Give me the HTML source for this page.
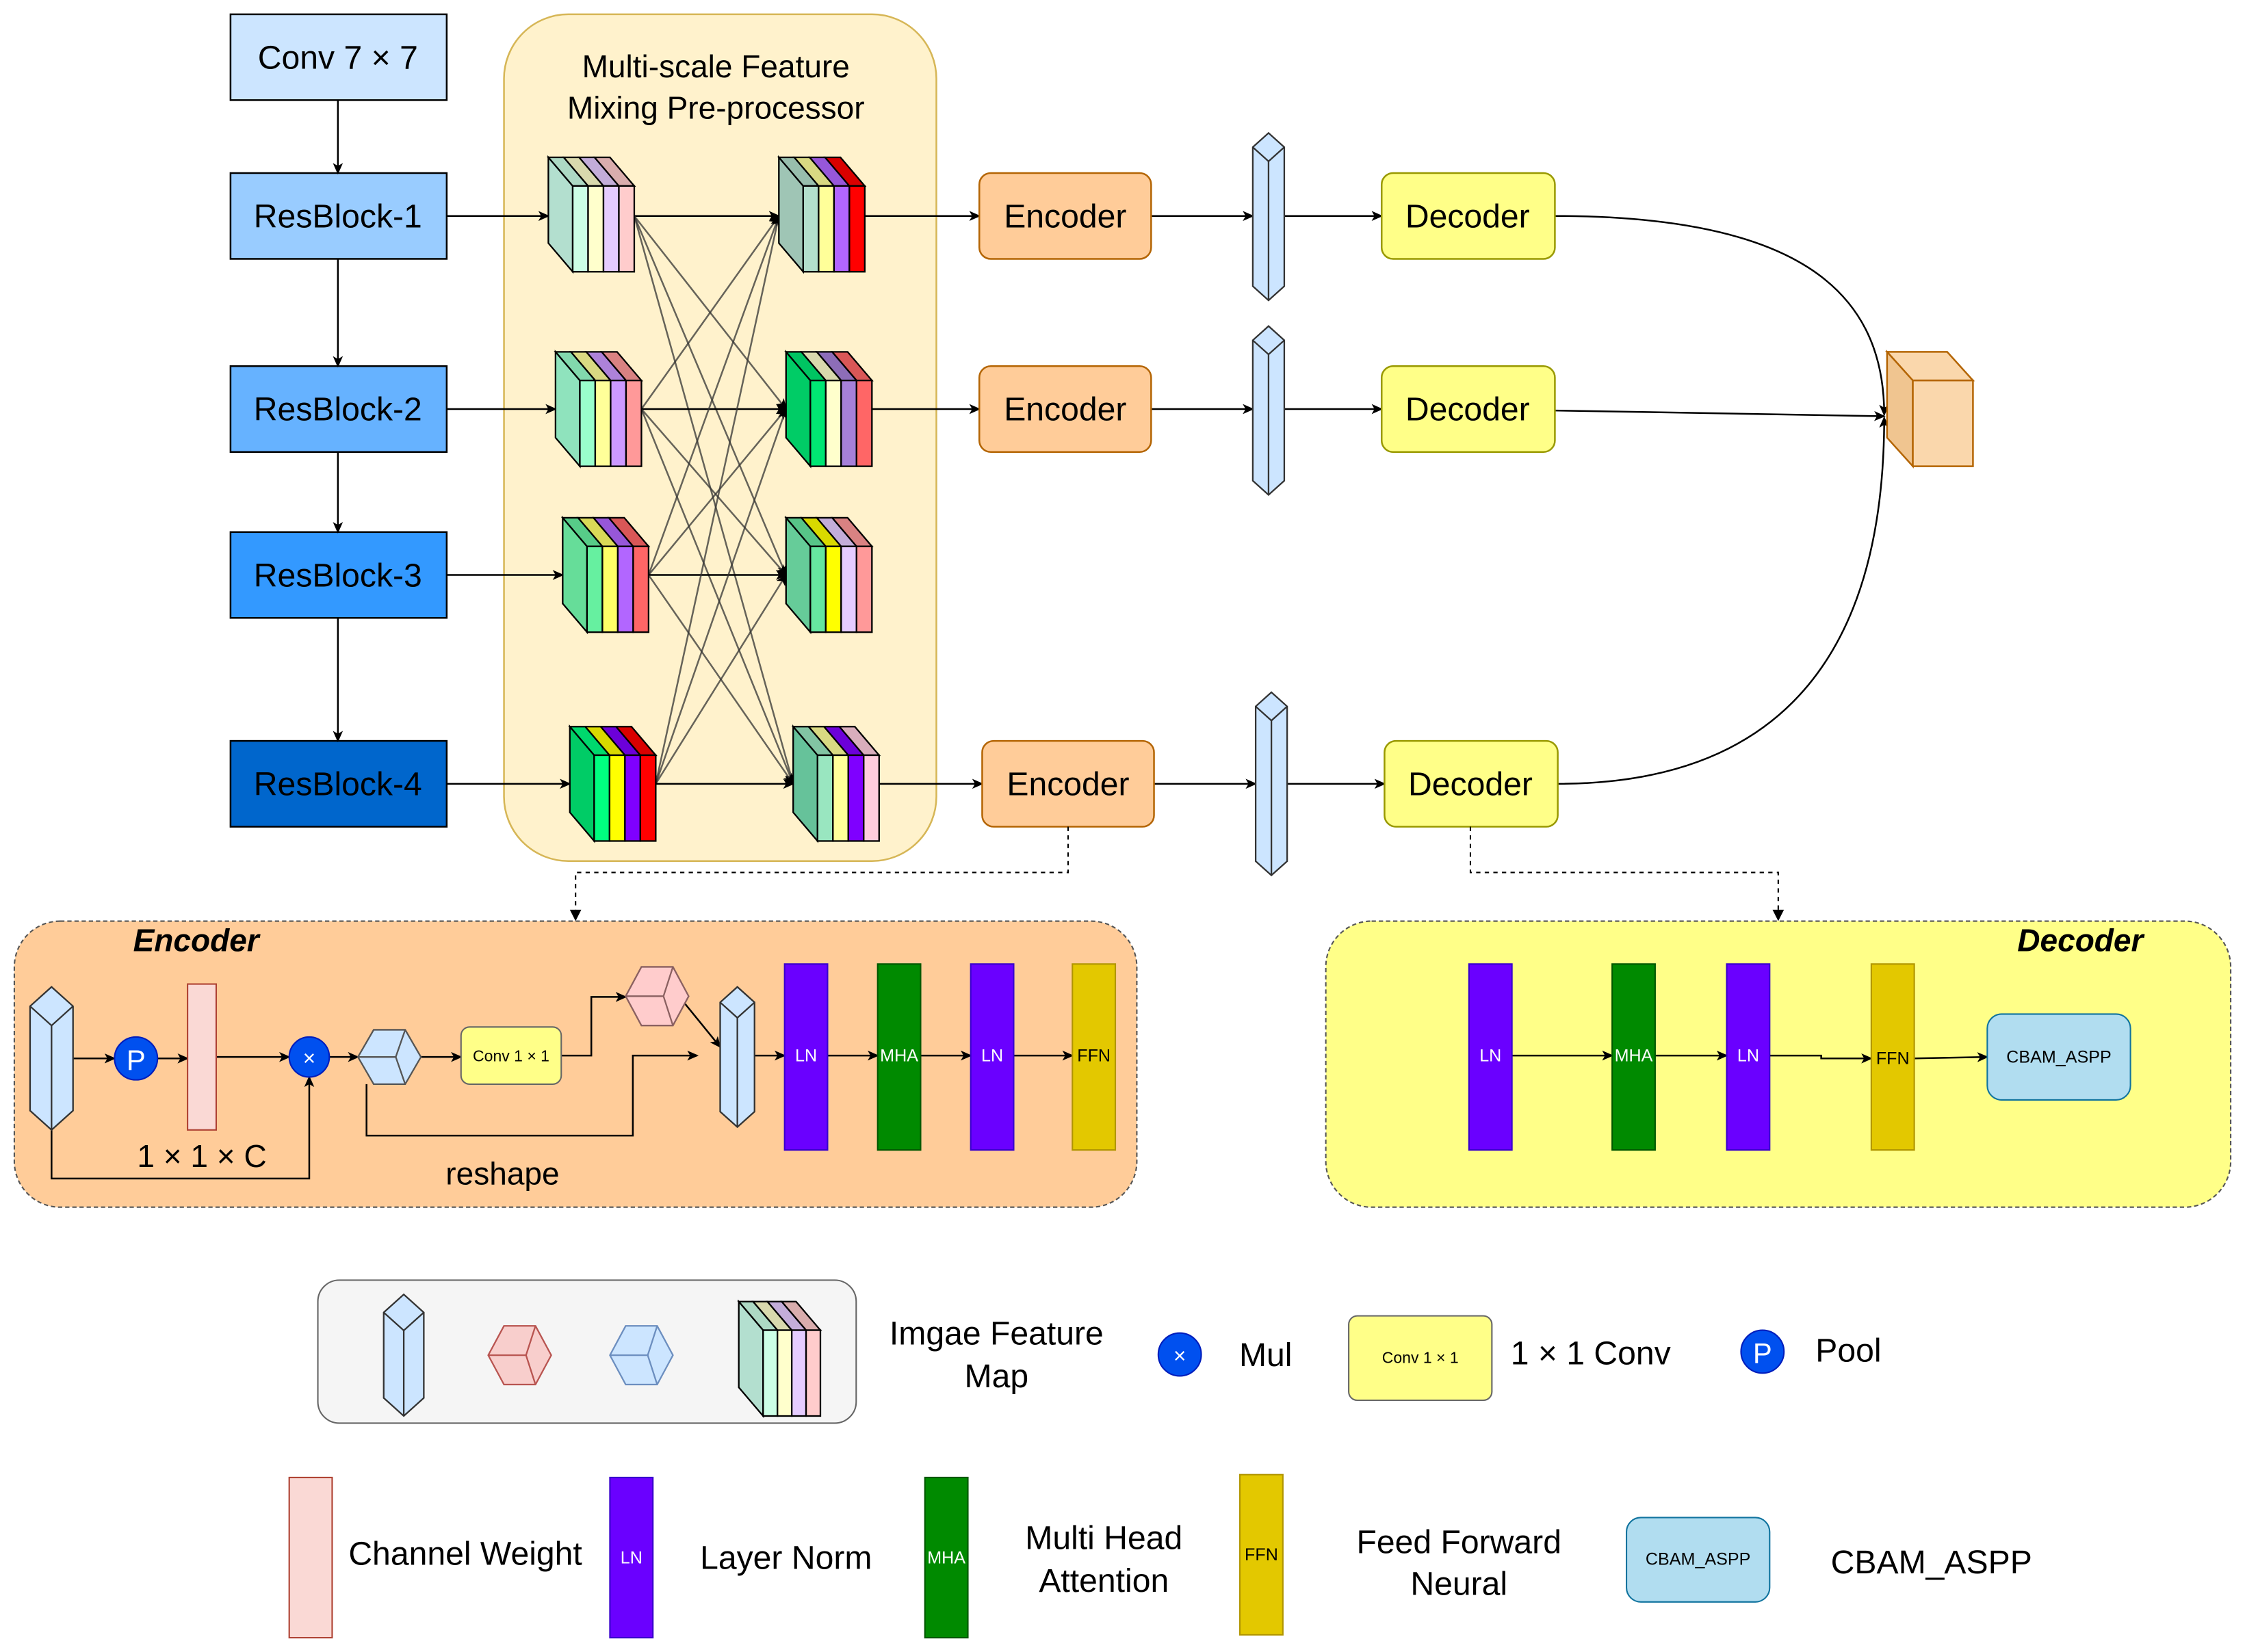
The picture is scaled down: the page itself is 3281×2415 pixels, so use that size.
<!DOCTYPE html>
<html><head><meta charset="utf-8"><style>
html,body{margin:0;padding:0;background:#fff;}
svg{display:block;}
text{font-family:"Liberation Sans",sans-serif;}
</style></head><body>
<svg id="s" width="3281" height="2415" viewBox="0 0 1568 1155" preserveAspectRatio="none" xmlns="http://www.w3.org/2000/svg">
<defs>
<marker id="a" markerWidth="8" markerHeight="8" refX="7" refY="4" orient="auto" markerUnits="userSpaceOnUse"><path d="M0,0.5 L8,4 L0,7.5 L2,4 z" fill="#000"/></marker>
</defs>
<rect width="1568" height="1155" fill="#fff"/>
<rect x="352" y="10" width="302" height="592" rx="45" fill="#fff2cc" stroke="#d6b656" stroke-width="1.2"/>
<text x="500" y="54" font-size="22" text-anchor="middle">Multi-scale Feature</text>
<text x="500" y="83" font-size="22" text-anchor="middle">Mixing Pre-processor</text>
<g stroke="#000" stroke-width="1.2">
<rect x="161" y="10" width="151" height="60" fill="#cce5ff"/>
<rect x="161" y="121" width="151" height="60" fill="#99ccff"/>
<rect x="161" y="256" width="151" height="60" fill="#66b2ff"/>
<rect x="161" y="372" width="151" height="60" fill="#3399ff"/>
<rect x="161" y="518" width="151" height="60" fill="#0066cc"/>
</g>
<g font-size="23" text-anchor="middle">
<text x="236" y="48">Conv 7 × 7</text>
<text x="236" y="159">ResBlock-1</text>
<text x="236" y="294">ResBlock-2</text>
<text x="236" y="410">ResBlock-3</text>
<text x="236" y="556">ResBlock-4</text>
</g>
<g stroke="#000" stroke-width="1.2" marker-end="url(#a)" fill="none">
<line x1="236" y1="70" x2="236" y2="121"/>
<line x1="236" y1="181" x2="236" y2="256"/>
<line x1="236" y1="316" x2="236" y2="372"/>
<line x1="236" y1="432" x2="236" y2="518"/>
<line x1="312" y1="151" x2="383" y2="151"/>
<line x1="312" y1="286" x2="388" y2="286"/>
<line x1="312" y1="402" x2="393" y2="402"/>
<line x1="312" y1="548" x2="398" y2="548"/>
</g>
<g id="cross" stroke="#333" stroke-opacity="0.75" stroke-width="1.2" fill="none"></g>
<g id="cubes"></g>
<g stroke="#000" stroke-width="1.2" marker-end="url(#a)" fill="none">
<line x1="604" y1="151" x2="684" y2="151"/>
<line x1="609" y1="286" x2="684" y2="286"/>
<line x1="614" y1="548" x2="686" y2="548"/>
<line x1="804" y1="151" x2="875" y2="151"/>
<line x1="804" y1="286" x2="875" y2="286"/>
<line x1="806" y1="548" x2="877" y2="548"/>
<line x1="897" y1="151" x2="965" y2="151"/>
<line x1="897" y1="286" x2="965" y2="286"/>
<line x1="899" y1="548" x2="967" y2="548"/>
<path d="M1086,151 C1250,151 1316,200 1316,290"/>
<line x1="1086" y1="287" x2="1316" y2="291"/>
<path d="M1088,548 C1250,548 1316,450 1316,292"/>
</g>
<g stroke="#b46504" stroke-width="1.2">
<rect x="684" y="121" width="120" height="60" rx="8" fill="#ffcc99"/>
<rect x="684" y="256" width="120" height="60" rx="8" fill="#ffcc99"/>
<rect x="686" y="518" width="120" height="60" rx="8" fill="#ffcc99"/>
</g>
<g stroke="#999900" stroke-width="1.2">
<rect x="965" y="121" width="121" height="60" rx="8" fill="#ffff88"/>
<rect x="965" y="256" width="121" height="60" rx="8" fill="#ffff88"/>
<rect x="967" y="518" width="121" height="60" rx="8" fill="#ffff88"/>
</g>
<g font-size="23" text-anchor="middle">
<text x="744" y="159">Encoder</text><text x="744" y="294">Encoder</text><text x="746" y="556">Encoder</text>
<text x="1025" y="159">Decoder</text><text x="1025" y="294">Decoder</text><text x="1027" y="556">Decoder</text>
</g>
<g stroke="#b46504" stroke-width="1.2" fill="#fad7ac">
<polygon points="1318,246 1360,246 1378,266 1336,266"/>
<polygon points="1318,246 1336,266 1336,326 1318,306" fill="#f0c590"/>
<rect x="1336" y="266" width="42" height="60"/>
</g>
<g stroke="#000" stroke-width="1" stroke-dasharray="3,3" fill="none">
<polyline points="746,578 746,610 402,610 402,638"/>
<polyline points="1027,578 1027,610 1242,610 1242,638"/>
</g>
<g fill="#000"><path d="M398,636 L406,636 L402,644z"/><path d="M1238,636 L1246,636 L1242,644z"/></g>
<rect x="10" y="644" width="784" height="200" rx="32" fill="#ffcc99" stroke="#555" stroke-dasharray="3,2"/>
<text x="93" y="665" font-size="22" font-weight="bold" font-style="italic">Encoder</text>
<rect x="926" y="644" width="632" height="200" rx="32" fill="#ffff88" stroke="#555" stroke-dasharray="3,2"/>
<text x="1497" y="665" font-size="22" font-weight="bold" font-style="italic" text-anchor="end">Decoder</text>
<g stroke="#000" stroke-width="1.2" fill="none" marker-end="url(#a)">
<line x1="51" y1="740" x2="80" y2="740"/>
<line x1="110" y1="740" x2="131" y2="740"/>
<line x1="151" y1="739" x2="202" y2="739"/>
<line x1="230" y1="739" x2="250" y2="739"/>
<line x1="294" y1="739" x2="322" y2="739"/>
<polyline points="392,738 413,738 413,697 437,697"/>
<line x1="477" y1="700" x2="503" y2="732"/>
<polyline points="256,758 256,794 442,794 442,738 487,738"/>
<polyline points="36,790 36,824 216,824 216,753"/>
<line x1="527" y1="738" x2="548" y2="738"/>
<line x1="578" y1="738" x2="613" y2="738"/>
<line x1="643" y1="738" x2="678" y2="738"/>
<line x1="708" y1="738" x2="749" y2="738"/>
<line x1="1056" y1="738" x2="1126" y2="738"/>
<line x1="1156" y1="738" x2="1206" y2="738"/>
<polyline points="1236,738 1272,738 1272,740 1307,740"/>
<line x1="1337" y1="740" x2="1388" y2="739"/>
</g>
<g id="small"></g>
<rect x="131" y="688" width="20" height="102" fill="#fad9d5" stroke="#ae4132"/>
<circle cx="95" cy="740" r="15" fill="#0050ef" stroke="#001dbc"/>
<text x="95" y="748" font-size="20" fill="#fff" text-anchor="middle">P</text>
<circle cx="216" cy="739" r="14" fill="#0050ef" stroke="#001dbc"/>
<text x="216" y="745" font-size="15" fill="#fff" text-anchor="middle">×</text>
<rect x="322" y="718" width="70" height="40" rx="6" fill="#ffff88" stroke="#666"/>
<text x="357" y="742" font-size="11" text-anchor="middle">Conv 1 × 1</text>
<text x="141" y="816" font-size="22" text-anchor="middle">1 × 1 × C</text>
<text x="351" y="828" font-size="22" text-anchor="middle">reshape</text>
<g font-size="12" text-anchor="middle">
<rect x="548" y="674" width="30" height="130" fill="#6a00ff" stroke="#3700cc"/><text x="563" y="742" fill="#fff">LN</text>
<rect x="613" y="674" width="30" height="130" fill="#008a00" stroke="#005700"/><text x="628" y="742" fill="#fff">MHA</text>
<rect x="678" y="674" width="30" height="130" fill="#6a00ff" stroke="#3700cc"/><text x="693" y="742" fill="#fff">LN</text>
<rect x="749" y="674" width="30" height="130" fill="#e3c800" stroke="#b09500"/><text x="764" y="742">FFN</text>
<rect x="1026" y="674" width="30" height="130" fill="#6a00ff" stroke="#3700cc"/><text x="1041" y="742" fill="#fff">LN</text>
<rect x="1126" y="674" width="30" height="130" fill="#008a00" stroke="#005700"/><text x="1141" y="742" fill="#fff">MHA</text>
<rect x="1206" y="674" width="30" height="130" fill="#6a00ff" stroke="#3700cc"/><text x="1221" y="742" fill="#fff">LN</text>
<rect x="1307" y="674" width="30" height="130" fill="#e3c800" stroke="#b09500"/><text x="1322" y="744">FFN</text>
</g>
<rect x="1388" y="709" width="100" height="60" rx="10" fill="#b1ddf0" stroke="#10739e"/>
<text x="1438" y="743" font-size="12" text-anchor="middle">CBAM_ASPP</text>
<rect x="222" y="895" width="376" height="100" rx="15" fill="#f5f5f5" stroke="#666"/>
<g id="legend"></g>
<g font-size="23" text-anchor="middle">
<text x="696" y="940">Imgae Feature</text><text x="696" y="970">Map</text>
<text x="884" y="955">Mul</text>
<text x="1111" y="954">1 × 1 Conv</text>
<text x="1291" y="952">Pool</text>
<text x="325" y="1094">Channel Weight</text>
<text x="549" y="1097">Layer Norm</text>
<text x="771" y="1083">Multi Head</text><text x="771" y="1113">Attention</text>
<text x="1019" y="1086">Feed Forward</text><text x="1019" y="1115">Neural</text>
<text x="1349" y="1100">CBAM_ASPP</text>
</g>
<circle cx="824" cy="947" r="15" fill="#0050ef" stroke="#001dbc"/>
<text x="824" y="953" font-size="15" fill="#fff" text-anchor="middle">×</text>
<rect x="942" y="920" width="100" height="59" rx="6" fill="#ffff88" stroke="#666"/>
<text x="992" y="953" font-size="11" text-anchor="middle">Conv 1 × 1</text>
<circle cx="1231" cy="945" r="15" fill="#0050ef" stroke="#001dbc"/>
<text x="1231" y="953" font-size="20" fill="#fff" text-anchor="middle">P</text>
<rect x="202" y="1033" width="30" height="112" fill="#fad9d5" stroke="#ae4132"/>
<g font-size="12" text-anchor="middle">
<rect x="426" y="1033" width="30" height="112" fill="#6a00ff" stroke="#3700cc"/><text x="441" y="1093" fill="#fff">LN</text>
<rect x="646" y="1033" width="30" height="112" fill="#008a00" stroke="#005700"/><text x="661" y="1093" fill="#fff">MHA</text>
<rect x="866" y="1031" width="30" height="112" fill="#e3c800" stroke="#b09500"/><text x="881" y="1091">FFN</text>
</g>
<rect x="1136" y="1061" width="100" height="59" rx="10" fill="#b1ddf0" stroke="#10739e"/>
<text x="1186" y="1094" font-size="12" text-anchor="middle">CBAM_ASPP</text>
<g id="prisms"></g>
</svg>
<script>
var NS="http://www.w3.org/2000/svg";
function el(p,t,a){var e=document.createElementNS(NS,t);for(var k in a)e.setAttribute(k,a[k]);p.appendChild(e);return e;}
function shade(c){var n=parseInt(c.slice(1),16),r=(n>>16)&255,g=(n>>8)&255,b=n&255;r=Math.round(r*.85);g=Math.round(g*.85);b=Math.round(b*.85);return "rgb("+r+","+g+","+b+")";}
function cube(p,fx,fy,w,h,side,cols){var dx=17,dy=20,sw=w/cols.length;
 var g=el(p,"g",{stroke:"#000","stroke-width":"1.1"});
 el(g,"polygon",{points:[fx-dx,fy-dy,fx,fy,fx,fy+h,fx-dx,fy+h-dy].join(","),fill:side});
 for(var i=0;i<cols.length;i++){var x=fx+i*sw;
  el(g,"polygon",{points:[x-dx,fy-dy,x+sw-dx,fy-dy,x+sw,fy,x,fy].join(","),fill:shade(cols[i])});
  el(g,"rect",{x:x,y:fy,width:sw,height:h,fill:cols[i]});}
}
var C=document.getElementById("cubes"),X=document.getElementById("cross");
var L=[[400,130,"#b3dfcf",["#ccffe6","#ffffcc","#e5ccff","#ffcccc"]],[405,266,"#8fe3bd",["#99ffcc","#ffff99","#cc99ff","#ff9999"]],[410,382,"#66dd99",["#66f0a0","#ffff66","#b266ff","#ff6666"]],[415,528,"#00cc66",["#00ff80","#ffff00","#7f00ff","#ff0000"]]];
var R=[[561,130,"#9fc5b5",["#b3dfcc","#ffff99","#b266ff","#ff0000"]],[566,266,"#00cc66",["#00e673","#ffffcc","#a680d9","#ff6666"]],[566,382,"#66cc99",["#66e6a0","#ffff00","#e5ccff","#ff9999"]],[571,528,"#66c29a",["#99e6c0","#ffff99","#7f00ff","#ffccdd"]]];
var ys=[151,286,402,548];
for(var i=0;i<4;i++)for(var j=0;j<4;j++){var x1=L[i][0]+43,x2=R[j][0]-17;
 if(i==j){el(X,"line",{x1:x1,y1:ys[i],x2:x2,y2:ys[j],stroke:"#000","stroke-opacity":"1","marker-end":"url(#a)"});}
 else el(X,"line",{x1:x1,y1:ys[i],x2:x2,y2:ys[j],"marker-end":"url(#a)"});}
L.concat(R).forEach(function(c){cube(C,c[0],c[1],43,60,c[2],c[3]);});
var LG=document.getElementById("legend");
cube(LG,533,930,40,60,"#b3dfcf",["#ccffe6","#ffffcc","#e5ccff","#ffcccc"]);
function prism(p,x,y,w,H){var d=w*0.45,m=x+w/2;var g=el(p,"g",{stroke:"#333","stroke-width":"1.1",fill:"#cce5ff"});
 el(g,"polygon",{points:[x,y+d,m,y,x+w,y+d,x+w,y+H-d,m,y+H,x,y+H-d].join(",")});
 el(g,"polyline",{points:[x,y+d,m,y+2*d,x+w,y+d].join(","),fill:"none"});
 el(g,"line",{x1:m,y1:y+2*d,x2:m,y2:y+H});}
var P=document.getElementById("prisms");
prism(P,875,93,22,117);prism(P,875,228,22,118);prism(P,877,484,22,128);
prism(P,21,690,30,100);prism(P,503,690,24,98);prism(P,268,905,28,85);
function iso(p,x,y,w,h,fill,st){var g=el(p,"g",{stroke:st,"stroke-width":"1.1",fill:fill});
 el(g,"polygon",{points:[x,y+h/2,x+w*.25,y,x+w*.75,y,x+w,y+h/2,x+w*.75,y+h,x+w*.25,y+h].join(",")});
 el(g,"polyline",{points:[x,y+h/2,x+w*.6,y+h/2,x+w*.75,y].join(","),fill:"none"});
 el(g,"line",{x1:x+w*.6,y1:y+h/2,x2:x+w*.75,y2:y+h});}
var S=document.getElementById("small");
iso(S,250,720,44,38,"#cce5ff","#555");iso(S,437,676,44,41,"#ffcccc","#8a6060");
iso(LG,341,927,44,41,"#f8cecc","#b85450");iso(LG,426,927,44,41,"#cce5ff","#6c8ebf");
</script>
</body></html>
